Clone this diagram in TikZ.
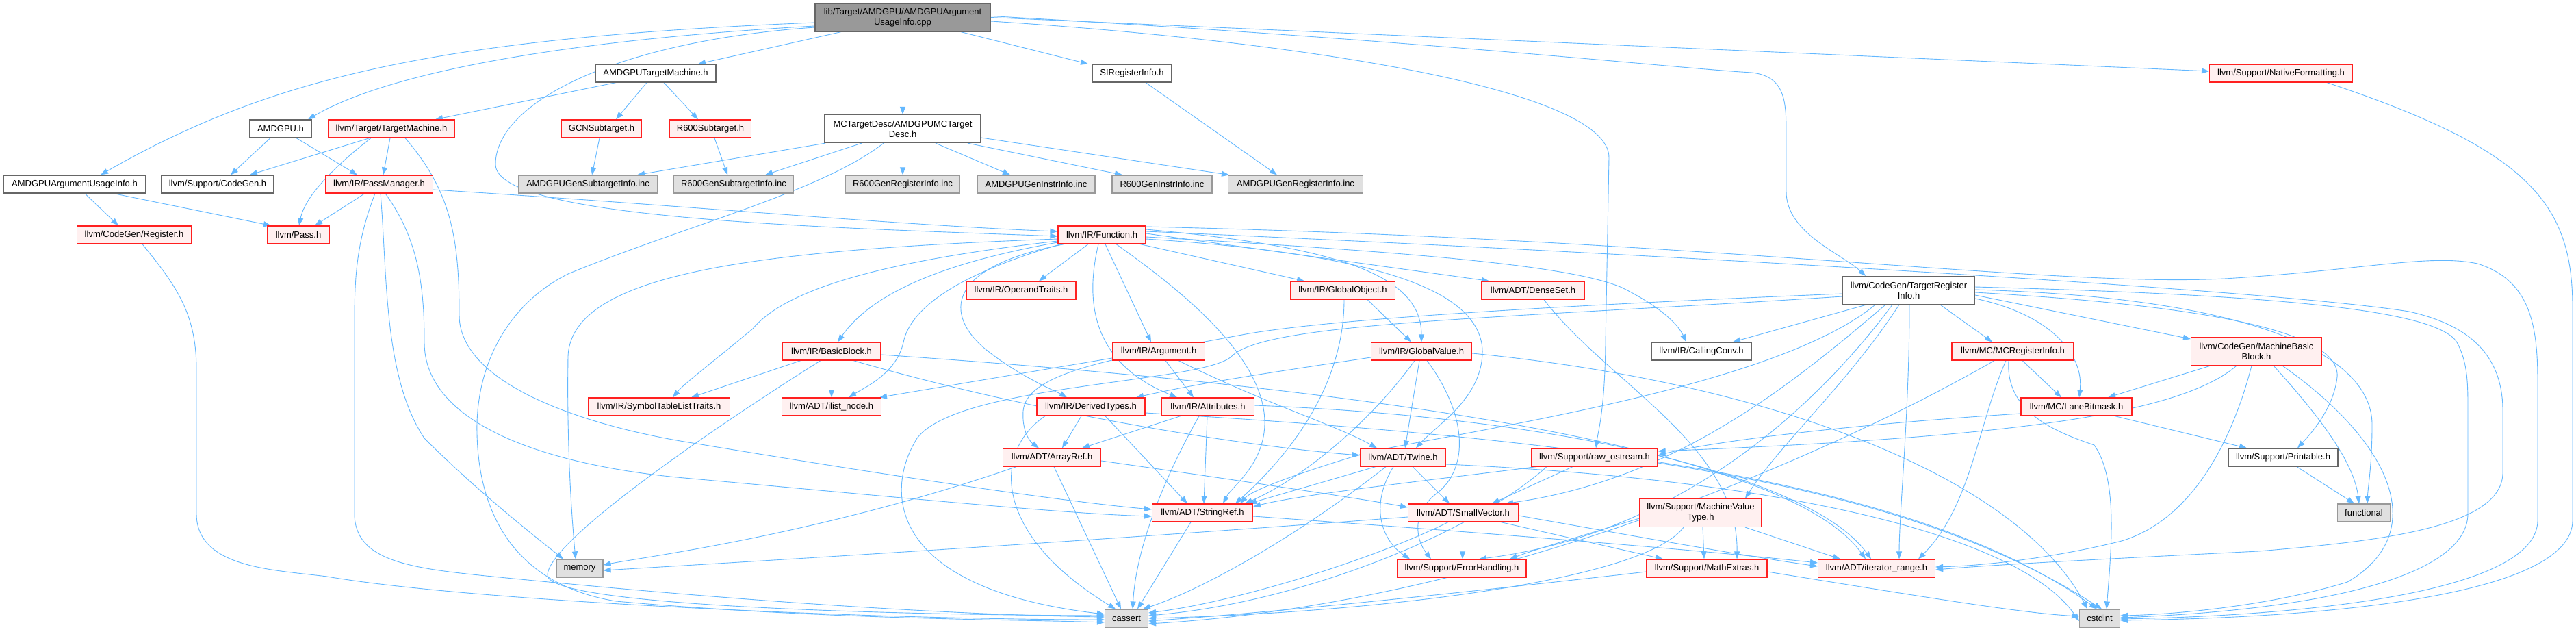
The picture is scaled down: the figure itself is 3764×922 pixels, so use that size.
\documentclass[tikz,border=0pt]{standalone}
\usepackage{fontspec}
\setmainfont{Liberation Sans}
\usetikzlibrary{arrows.meta}
\pgfdeclarelayer{paper}
\pgfdeclarelayer{bg}
\pgfsetlayers{paper,bg,main}
\definecolor{edgec}{HTML}{63B8FF}
\definecolor{redb}{HTML}{FF2020}
\definecolor{redf}{HTML}{FFF0F0}
\definecolor{grayf}{HTML}{E0E0E0}
\definecolor{grayb}{HTML}{999999}
\definecolor{whiteb}{HTML}{666666}
\definecolor{rootf}{HTML}{999999}
\tikzset{
 nb/.style={draw, rectangle, inner sep=0pt, minimum height=26pt, align=center, font=\fontsize{13}{15}\selectfont, line width=1.2pt},
 rednode/.style={nb, draw=redb, fill=redf},
 whitenode/.style={nb, draw=whiteb, fill=white},
 graynode/.style={nb, draw=grayb, fill=grayf},
 rootnode/.style={nb, draw=whiteb, fill=rootf},
 twoline/.style={minimum height=41pt},
 dep/.style={draw=edgec, line width=0.9pt, -{Triangle[length=11pt,width=8pt]}},
}
\begin{document}
\begin{tikzpicture}[x=1pt,y=-1pt]
\begin{pgfonlayer}{paper}
\fill[white] (0,0) rectangle (3764,922);
\end{pgfonlayer}
\useasboundingbox (0,0) rectangle (3764,922);
% nodes
\node[rootnode,twoline,minimum width=256pt] (root) at (1319,25.5) {lib/Target/AMDGPU/AMDGPUArgument\\UsageInfo.cpp};
\node[whitenode,minimum width=176pt] (amdtm) at (958,107) {AMDGPUTargetMachine.h};
\node[whitenode,minimum width=116pt] (sireg) at (1654,107) {SIRegisterInfo.h};
\node[rednode,minimum width=209pt] (natfmt) at (3333,107) {llvm/Support/NativeFormatting.h};
\node[whitenode,minimum width=91pt] (amdgpu) at (410,188) {AMDGPU.h};
\node[rednode,minimum width=185pt] (tm) at (572,188) {llvm/Target/TargetMachine.h};
\node[rednode,minimum width=117pt] (gcn) at (879,188) {GCNSubtarget.h};
\node[rednode,minimum width=119pt] (r600st) at (1038,188) {R600Subtarget.h};
\node[whitenode,twoline,minimum width=228pt] (mctd) at (1319,188) {MCTargetDesc/AMDGPUMCTarget\\Desc.h};
\node[whitenode,minimum width=207pt] (argui) at (109,269) {AMDGPUArgumentUsageInfo.h};
\node[whitenode,minimum width=164pt] (codegen) at (318,269) {llvm/Support/CodeGen.h};
\node[rednode,minimum width=157pt] (passmgr) at (554,269) {llvm/IR/PassManager.h};
\node[graynode,minimum width=203pt] (amdgst) at (859,269) {AMDGPUGenSubtargetInfo.inc};
\node[graynode,minimum width=175pt] (r600gst) at (1072,269) {R600GenSubtargetInfo.inc};
\node[graynode,minimum width=167pt] (r600gri) at (1319,269) {R600GenRegisterInfo.inc};
\node[graynode,minimum width=172pt] (amdgii) at (1514,269) {AMDGPUGenInstrInfo.inc};
\node[graynode,minimum width=146pt] (r600gii) at (1698,269) {R600GenInstrInfo.inc};
\node[graynode,minimum width=197pt] (amdgri) at (1893,269) {AMDGPUGenRegisterInfo.inc};
\node[rednode,minimum width=167pt] (register) at (196,343) {llvm/CodeGen/Register.h};
\node[rednode,minimum width=91pt] (pass) at (436,343) {llvm/Pass.h};
\node[rednode,minimum width=128pt] (func) at (1610,343) {llvm/IR/Function.h};
\node[rednode,minimum width=160pt] (opertr) at (1492,424) {llvm/IR/OperandTraits.h};
\node[rednode,minimum width=153pt] (globobj) at (1962,424) {llvm/IR/GlobalObject.h};
\node[rednode,minimum width=150pt] (denseset) at (2240,424) {llvm/ADT/DenseSet.h};
\node[whitenode,twoline,minimum width=193pt] (tri) at (2789,424) {llvm/CodeGen/TargetRegister\\Info.h};
\node[rednode,minimum width=144pt] (bb) at (1215,513) {llvm/IR/BasicBlock.h};
\node[rednode,minimum width=135pt] (arg) at (1693,513) {llvm/IR/Argument.h};
\node[rednode,minimum width=147pt] (globval) at (2077,513) {llvm/IR/GlobalValue.h};
\node[whitenode,minimum width=146pt] (callconv) at (2486,513) {llvm/IR/CallingConv.h};
\node[rednode,minimum width=178pt] (mcreg) at (2941,513) {llvm/MC/MCRegisterInfo.h};
\node[rednode,twoline,minimum width=191pt] (mbb) at (3297,513) {llvm/CodeGen/MachineBasic\\Block.h};
\node[rednode,minimum width=207pt] (symtab) at (963,594) {llvm/IR/SymbolTableListTraits.h};
\node[rednode,minimum width=145pt] (ilist) at (1215,594) {llvm/ADT/ilist\_node.h};
\node[rednode,minimum width=158pt] (derived) at (1594,594) {llvm/IR/DerivedTypes.h};
\node[rednode,minimum width=135pt] (attrs) at (1765,594) {llvm/IR/Attributes.h};
\node[rednode,minimum width=162pt] (lanebm) at (3034,594) {llvm/MC/LaneBitmask.h};
\node[rednode,minimum width=143pt] (arrayref) at (1537,668) {llvm/ADT/ArrayRef.h};
\node[rednode,minimum width=125pt] (twine) at (2050,668) {llvm/ADT/Twine.h};
\node[rednode,minimum width=184pt] (rawos) at (2330,668) {llvm/Support/raw\_ostream.h};
\node[whitenode,minimum width=160pt] (printable) at (3336,668) {llvm/Support/Printable.h};
\node[rednode,minimum width=147pt] (stringref) at (1757,749) {llvm/ADT/StringRef.h};
\node[rednode,minimum width=161pt] (smallvec) at (2138,749) {llvm/ADT/SmallVector.h};
\node[rednode,twoline,minimum width=178pt] (mvt) at (2485,749) {llvm/Support/MachineValue\\Type.h};
\node[graynode,minimum width=77pt] (functional) at (3454,749) {functional};
\node[graynode,minimum width=68pt] (memory) at (847,830) {memory};
\node[rednode,minimum width=188pt] (errhand) at (2136,830) {llvm/Support/ErrorHandling.h};
\node[rednode,minimum width=176pt] (mathext) at (2494,830) {llvm/Support/MathExtras.h};
\node[rednode,minimum width=171pt] (iterrange) at (2742,830) {llvm/ADT/iterator\_range.h};
\node[graynode,minimum width=63pt] (cassert) at (1646,903) {cassert};
\node[graynode,minimum width=59pt] (cstdint) at (3068,903) {cstdint};

\begin{pgfonlayer}{bg}
% root
\draw[dep] ([yshift=-7.5pt]root.west) .. controls (650,55) and (400,110) .. ([xshift=38pt]argui.north);
\draw[dep] ([yshift=-12.5pt]root.west) .. controls (800,60) and (560,110) .. ([xshift=40pt]amdgpu.north);
\draw[dep] ([xshift=-90pt]root.south) -- ([xshift=62pt]amdtm.north);
\draw[dep] (root.south) -- (mctd.north);
\draw[dep] ([xshift=85pt]root.south) -- ([xshift=-64pt]sireg.north);
\draw[dep] ([yshift=-14.5pt]root.west) .. controls (900,60) and (724,150) .. (724,240) .. controls (724,320) and (1200,332) .. ([yshift=-2pt]func.west);
\draw[dep] ([yshift=-5.5pt]root.east) .. controls (1900,60) and (2351,130) .. (2351,230) -- (2346,500) .. controls (2345,600) and (2335,630) .. ([xshift=2pt]rawos.north);
\draw[dep] ([yshift=2pt]root.east) .. controls (2100,60) and (2450,100) .. (2560,106) .. controls (2610,112) and (2610,150) .. (2610,200) -- (2610,280) .. controls (2610,340) and (2690,370) .. ([xshift=-63pt]tri.north);
\draw[dep] (root.east) -- ([yshift=3pt]natfmt.west);
% AMDGPUTargetMachine
\draw[dep] ([xshift=-58pt]amdtm.south) -- ([xshift=64pt]tm.north);
\draw[dep] ([xshift=-13pt]amdtm.south) -- ([xshift=21pt]gcn.north);
\draw[dep] ([xshift=12pt]amdtm.south) -- ([xshift=-18pt]r600st.north);
% AMDGPU.h
\draw[dep] ([xshift=-15pt]amdgpu.south) -- ([xshift=19pt]codegen.north);
\draw[dep] ([xshift=23pt]amdgpu.south) -- ([xshift=-32pt]passmgr.north);
% TargetMachine
\draw[dep] ([xshift=-32pt]tm.south) -- ([xshift=47pt]codegen.north);
\draw[dep] ([xshift=-30pt]tm.south) .. controls (480,250) and (445,290) .. ([xshift=1pt]pass.north);
\draw[dep] ([xshift=-2pt]tm.south) -- ([xshift=6pt]passmgr.north);
\draw[dep] ([xshift=20pt]tm.south) .. controls (660,280) and (671,350) .. (671,460) .. controls (671,560) and (850,620) .. (1000,645) .. controls (1300,695) and (1550,732) .. ([yshift=5pt]stringref.west);
% PassManager
\draw[dep] ([xshift=-21pt]passmgr.south) -- ([xshift=24pt]pass.north);
\draw[dep] ([yshift=-8pt]passmgr.east) .. controls (1000,300) and (1300,328) .. ([yshift=5pt]func.west);
\draw[dep] ([xshift=-6pt]passmgr.south) .. controls (522,350) and (518,400) .. (518,470) -- (518,750) .. controls (518,820) and (600,830) .. (720,842) .. controls (1100,880) and (1400,898) .. ([yshift=2pt]cassert.west);
\draw[dep] ([xshift=2pt]passmgr.south) .. controls (566,400) and (560,550) .. (620,640) .. controls (700,720) and (790,790) .. ([xshift=-24pt]memory.north);
\draw[dep] ([xshift=9pt]passmgr.south) .. controls (612,350) and (620,420) .. (620,500) .. controls (620,620) and (800,680) .. (1000,698) .. controls (1300,725) and (1550,750) .. ([yshift=-5pt]stringref.west);
% ArgumentUsageInfo, Register
\draw[dep] ([xshift=15pt]argui.south) -- ([xshift=-23pt]register.north);
\draw[dep] ([xshift=57pt]argui.south) -- ([xshift=-40pt]pass.north);
\draw[dep] ([xshift=12pt]register.south) .. controls (260,420) and (287,460) .. (287,540) -- (287,750) .. controls (287,830) and (400,832) .. (478,842) .. controls (700,880) and (1300,905) .. ([yshift=-2pt]cassert.west);
% subtargets, SIRegisterInfo
\draw[dep] ([xshift=-3pt]gcn.south) -- ([xshift=6pt]amdgst.north);
\draw[dep] ([xshift=6pt]r600st.south) -- ([xshift=-9pt]r600gst.north);
\draw[dep] ([xshift=20pt]sireg.south) -- ([xshift=-27pt]amdgri.north);
% MCTargetDesc
\draw[dep] ([xshift=-113pt]mctd.south) -- ([xshift=72pt]amdgst.north);
\draw[dep] ([xshift=-60pt]mctd.south) -- ([xshift=46pt]r600gst.north);
\draw[dep] (mctd.south) -- (r600gri.north);
\draw[dep] ([xshift=48pt]mctd.south) -- ([xshift=-38pt]amdgii.north);
\draw[dep] ([xshift=95pt]mctd.south) -- ([xshift=-58pt]r600gii.north);
\draw[dep] ([yshift=-13pt]mctd.east) -- ([xshift=-97pt]amdgri.north);
\draw[dep] ([xshift=-28pt]mctd.south) .. controls (1200,280) and (1000,330) .. (830,400) .. controls (750,440) and (700,520) .. (697,617) .. controls (695,720) and (730,850) .. (900,878) .. controls (1200,905) and (1500,905) .. ([yshift=-6pt]cassert.west);
% Function
\draw[dep] ([xshift=-20pt]func.south) -- ([xshift=26pt]opertr.north);
\draw[dep] ([xshift=5pt]func.south) -- ([xshift=-11pt]arg.north);
\draw[dep] ([xshift=-5pt]func.south) .. controls (1585,440) and (1595,530) .. ([xshift=-45pt]attrs.north);
\draw[dep] ([xshift=21pt]func.south) .. controls (1720,420) and (1850,520) .. (1848,620) .. controls (1846,680) and (1800,710) .. ([xshift=30pt]stringref.north);
\draw[dep] ([xshift=56pt]func.south) -- ([xshift=-56pt]globobj.north);
\draw[dep] ([yshift=8pt]func.east) .. controls (1950,360) and (2077,400) .. (globval.north);
\draw[dep] ([yshift=2pt]func.east) -- ([xshift=-64pt]denseset.north);
\draw[dep] ([yshift=-3pt]func.east) .. controls (2100,370) and (2300,390) .. (2370,420) .. controls (2420,445) and (2450,470) .. ([xshift=-22pt]callconv.north);
\draw[dep] ([yshift=-6pt]func.east) .. controls (2000,370) and (2160,420) .. (2166,510) .. controls (2168,580) and (2100,620) .. ([xshift=19pt]twine.north);
\draw[dep] ([yshift=-9pt]func.west) .. controls (1300,380) and (1150,420) .. (1100,480) .. controls (1040,530) and (1000,560) .. ([xshift=20pt]symtab.north);
\draw[dep] ([yshift=-11pt]func.west) .. controls (1400,380) and (1280,420) .. ([xshift=9pt]bb.north);
\draw[dep] ([xshift=-60pt]func.south) .. controls (1400,400) and (1330,450) .. (1320,500) .. controls (1310,545) and (1265,565) .. ([xshift=25pt]ilist.north);
\draw[dep] ([xshift=-55pt]func.south) .. controls (1380,390) and (1380,460) .. (1440,510) .. controls (1490,550) and (1540,570) .. ([xshift=-35pt]derived.north);
\draw[dep] ([yshift=-6pt]func.west) .. controls (1100,365) and (835,400) .. (830,520) .. controls (828,650) and (835,750) .. ([xshift=-6pt]memory.north);
\draw[dep] ([yshift=12pt]func.east) .. controls (2500,350) and (3000,420) .. (3250,407) .. controls (3450,395) and (3550,370) .. (3620,385) .. controls (3700,410) and (3708,480) .. (3708,560) -- (3708,760) .. controls (3708,860) and (3400,898) .. ([yshift=-1pt]cstdint.east);
\draw[dep] ([yshift=5pt]func.east) .. controls (2300,365) and (3300,420) .. (3520,455) .. controls (3610,475) and (3657,520) .. (3657,600) -- (3657,690) .. controls (3657,770) and (3480,790) .. (3300,805) .. controls (3000,820) and (2900,826) .. ([yshift=-2pt]iterrange.east);
% GlobalObject, DenseSet
\draw[dep] ([xshift=36pt]globobj.south) -- ([xshift=-15pt]globval.north);
\draw[dep] ([xshift=2pt]globobj.south) .. controls (1964,550) and (1900,650) .. ([xshift=48pt]stringref.north);
\draw[dep] ([xshift=16pt]denseset.south) .. controls (2350,560) and (2540,650) .. ([xshift=44pt]mathext.north);
% TargetRegisterInfo
\draw[dep] ([xshift=-62pt]tri.south) -- ([xshift=46pt]callconv.north);
\draw[dep] ([xshift=-49pt]tri.south) .. controls (2600,560) and (2200,620) .. (2000,660) .. controls (1900,690) and (1830,715) .. ([xshift=55pt]stringref.north);
\draw[dep] ([xshift=-34pt]tri.south) .. controls (2620,560) and (2450,700) .. ([xshift=62pt]smallvec.north);
\draw[dep] ([xshift=-24pt]tri.south) .. controls (2650,600) and (2450,780) .. ([xshift=25pt]errhand.north);
\draw[dep] ([xshift=-14pt]tri.south) .. controls (2700,560) and (2600,650) .. ([xshift=65pt]mvt.north);
\draw[dep] ([xshift=1pt]tri.south) .. controls (2790,600) and (2775,750) .. ([xshift=33pt]iterrange.north);
\draw[dep] ([xshift=46pt]tri.south) -- ([xshift=-30pt]mcreg.north);
\draw[dep] ([yshift=-12pt]tri.east) .. controls (3000,460) and (3045,520) .. ([xshift=4pt]lanebm.north);
\draw[dep] ([yshift=-7pt]tri.east) -- ([yshift=18pt]mbb.west);
\draw[dep] ([yshift=-3pt]tri.east) .. controls (3200,445) and (3420,480) .. (3415,550) .. controls (3410,600) and (3370,640) .. ([xshift=21pt]printable.north);
\draw[dep] ([yshift=1pt]tri.east) .. controls (3300,435) and (3466,520) .. (3466,620) .. controls (3466,680) and (3460,710) .. ([xshift=5pt]functional.north);
\draw[dep] ([yshift=5pt]tri.east) .. controls (3300,430) and (3560,450) .. (3590,500) .. controls (3606,530) and (3606,560) .. (3606,600) -- (3606,750) .. controls (3606,840) and (3400,890) .. ([yshift=1pt]cstdint.east);
\draw[dep] ([yshift=-5pt]tri.west) .. controls (2300,445) and (1950,465) .. (1820,488) .. controls (1650,520) and (1500,540) .. (1495,600) .. controls (1493,630) and (1505,645) .. ([xshift=-19pt]arrayref.north);
\draw[dep] ([yshift=-9pt]tri.west) .. controls (2200,465) and (1850,470) .. (1800,520) .. controls (1760,560) and (1400,560) .. (1340,640) .. controls (1290,720) and (1300,860) .. ([yshift=6pt]cassert.west);
% MCRegisterInfo
\draw[dep] ([xshift=14pt]mcreg.south) -- ([xshift=-22pt]lanebm.north);
\draw[dep] ([xshift=-10pt]mcreg.south) .. controls (2890,620) and (2880,740) .. ([xshift=61pt]iterrange.north);
\draw[dep] ([xshift=-27pt]mcreg.south) .. controls (2700,650) and (2200,880) .. ([yshift=-8pt]cassert.east);
\draw[dep] ([xshift=-6pt]mcreg.south) .. controls (2930,600) and (3000,630) .. (3060,650) .. controls (3095,700) and (3085,800) .. ([xshift=10pt]cstdint.north);
% MachineBasicBlock
\draw[dep] ([xshift=-67pt]mbb.south) -- ([xshift=46pt]lanebm.north);
\draw[dep] ([xshift=-29pt]mbb.south) .. controls (3180,610) and (2900,640) .. ([yshift=9pt]rawos.east);
\draw[dep] ([xshift=-7pt]mbb.south) .. controls (3260,650) and (3200,760) .. (3100,790) .. controls (3000,815) and (2900,826) .. ([yshift=2pt]iterrange.east);
\draw[dep] ([xshift=25pt]mbb.south) .. controls (3400,620) and (3440,680) .. ([xshift=-7pt]functional.north);
\draw[dep] ([xshift=38pt]mbb.south) .. controls (3500,650) and (3550,780) .. (3430,850) .. controls (3300,890) and (3150,898) .. ([yshift=4pt]cstdint.east);
% LaneBitmask, Printable, NativeFormatting
\draw[dep] ([xshift=56pt]lanebm.south) -- ([xshift=-53pt]printable.north);
\draw[dep] ([yshift=-10pt]lanebm.west) .. controls (2700,620) and (2500,645) .. ([yshift=3pt]rawos.east);
\draw[dep] ([xshift=20pt]printable.south) -- ([xshift=-14pt]functional.north);
\draw[dep] ([xshift=67pt]natfmt.south) .. controls (3700,220) and (3759,300) .. (3759,450) -- (3759,760) .. controls (3759,870) and (3400,902) .. ([yshift=-3pt]cstdint.east);
% BasicBlock
\draw[dep] ([xshift=-45pt]bb.south) -- ([xshift=47pt]symtab.north);
\draw[dep] (bb.south) -- (ilist.north);
\draw[dep] ([xshift=32pt]bb.south) .. controls (1500,600) and (1800,650) .. ([yshift=3pt]twine.west);
\draw[dep] ([yshift=-5pt]bb.east) .. controls (1900,560) and (2600,640) .. ([xshift=-16pt]iterrange.north);
\draw[dep] ([xshift=-16pt]bb.south) .. controls (1050,620) and (800,790) .. (800,840) .. controls (800,885) and (1300,898) .. ([yshift=4pt]cassert.west);
% Argument
\draw[dep] ([xshift=10pt]arg.south) -- ([xshift=-21pt]attrs.north);
\draw[dep] ([xshift=29pt]arg.south) .. controls (1850,590) and (1950,620) .. ([xshift=-38pt]twine.north);
\draw[dep] ([yshift=-10pt]arg.west) -- ([xshift=70pt]ilist.north);
% GlobalValue
\draw[dep] ([yshift=-9pt]globval.west) .. controls (1850,545) and (1750,560) .. ([xshift=66pt]derived.north);
\draw[dep] ([xshift=-10pt]globval.south) .. controls (2000,620) and (1900,700) .. ([xshift=62pt]stringref.north);
\draw[dep] ([xshift=-3pt]globval.south) -- ([xshift=3pt]twine.north);
\draw[dep] ([xshift=8pt]globval.south) .. controls (2140,600) and (2150,680) .. (2100,720) .. controls (2060,750) and (2070,790) .. ([xshift=-45pt]errhand.north);
\draw[dep] ([yshift=-3pt]globval.east) .. controls (2600,560) and (2950,700) .. ([xshift=-18pt]cstdint.north);
% DerivedTypes
\draw[dep] ([xshift=-14pt]derived.south) -- ([xshift=15pt]arrayref.north);
\draw[dep] ([xshift=21pt]derived.south) -- ([xshift=-22pt]stringref.north);
\draw[dep] ([xshift=-67pt]derived.south) .. controls (1450,660) and (1450,780) .. ([xshift=-16pt]cassert.north);
\draw[dep] ([yshift=-9pt]derived.east) .. controls (2300,640) and (2800,700) .. ([xshift=-4pt]cstdint.north);
% Attributes
\draw[dep] ([xshift=-40pt]attrs.south) -- ([xshift=44pt]arrayref.north);
\draw[dep] ([xshift=-1pt]attrs.south) -- ([xshift=2pt]stringref.north);
\draw[dep] ([xshift=-13pt]attrs.south) .. controls (1700,700) and (1660,800) .. ([xshift=9pt]cassert.north);
\draw[dep] ([yshift=2pt]attrs.east) .. controls (2300,610) and (2650,700) .. ([xshift=-8pt]iterrange.north);
% ArrayRef
\draw[dep] ([yshift=-5pt]arrayref.east) .. controls (1800,700) and (2000,730) .. ([yshift=8pt]smallvec.west);
\draw[dep] ([xshift=3pt]arrayref.south) -- ([xshift=-8pt]cassert.north);
\draw[dep] ([xshift=-52pt]arrayref.south) .. controls (1200,780) and (950,812) .. ([yshift=5pt]memory.east);
% StringRef
\draw[dep] ([yshift=-5pt]stringref.east) .. controls (2200,780) and (2500,805) .. ([yshift=8pt]iterrange.west);
\draw[dep] ([xshift=-17pt]stringref.south) -- ([xshift=16pt]cassert.north);
% Twine
\draw[dep] ([xshift=14pt]twine.south) -- ([xshift=-20pt]smallvec.north);
\draw[dep] ([xshift=-40pt]twine.south) -- ([xshift=68pt]stringref.north);
\draw[dep] ([xshift=-14pt]twine.south) .. controls (2000,740) and (2020,790) .. ([xshift=-76pt]errhand.north);
\draw[dep] ([xshift=-25pt]twine.south) .. controls (1900,780) and (1760,860) .. ([xshift=24pt]cassert.north);
\draw[dep] ([yshift=-10pt]twine.east) .. controls (2600,700) and (2950,780) .. ([yshift=-4pt]cstdint.west);
% raw_ostream
\draw[dep] ([xshift=-32pt]rawos.south) -- ([xshift=42pt]smallvec.north);
\draw[dep] ([xshift=-85pt]rawos.south) .. controls (2100,700) and (1900,722) .. ([yshift=9pt]stringref.east);
\draw[dep] ([xshift=-70pt]rawos.south) .. controls (2150,780) and (1900,880) .. ([yshift=4pt]cassert.east);
\draw[dep] ([yshift=-8pt]rawos.east) .. controls (2700,720) and (2900,780) .. ([xshift=3pt]cstdint.north);
% SmallVector
\draw[dep] ([xshift=-1pt]smallvec.south) -- ([xshift=1pt]errhand.north);
\draw[dep] ([xshift=55pt]smallvec.south) -- ([xshift=-64pt]mathext.north);
\draw[dep] ([yshift=-4pt]smallvec.east) .. controls (2400,785) and (2550,812) .. ([yshift=3pt]iterrange.west);
\draw[dep] ([xshift=-22pt]smallvec.south) .. controls (2000,820) and (1800,880) .. ([yshift=8pt]cassert.east);
\draw[dep] ([yshift=-6pt]smallvec.west) .. controls (1600,790) and (1100,820) .. ([yshift=-3pt]memory.east);
% MachineValueType
\draw[dep] ([yshift=-8pt]mvt.west) .. controls (2320,780) and (2250,800) .. ([xshift=70pt]errhand.north);
\draw[dep] ([xshift=3pt]mvt.south) -- ([xshift=-4pt]mathext.north);
\draw[dep] ([xshift=65pt]mvt.south) -- ([xshift=-53pt]iterrange.north);
\draw[dep] ([xshift=-25pt]mvt.south) .. controls (2400,850) and (2000,895) .. (cassert.east);
% MathExtras
\draw[dep] ([yshift=-5pt]mathext.west) .. controls (2100,870) and (1850,895) .. ([yshift=-4pt]cassert.east);
\draw[dep] ([yshift=-5pt]mathext.east) .. controls (2800,870) and (2950,895) .. ([yshift=3pt]cstdint.west);
\end{pgfonlayer}
\end{tikzpicture}
\end{document}
